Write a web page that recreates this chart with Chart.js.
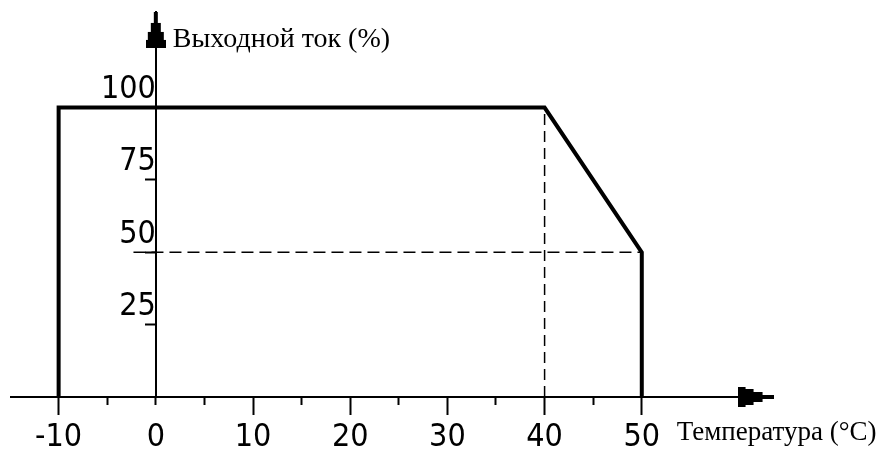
<!DOCTYPE html>
<html>
<head>
<meta charset="utf-8">
<script src="https://cdn.jsdelivr.net/npm/chart.js@4"></script>
<style>
  html, body { margin: 0; padding: 0; background: #fff; }
  #wrap { width: 888px; height: 453px; position: relative; }
</style>
</head>
<body>
<div id="wrap"><canvas id="deratingChart"></canvas></div>
<script>
// Кривая снижения выходного тока от температуры
const temperatura = [-10, -10, 40, 50, 50];
const tokProc = [0, 100, 100, 50, 0];

// Вспомогательные пунктирные линии
const dashVertX = [40, 40];
const dashVertY = [0, 100];
const dashHorX = [-2.3, 50];
const dashHorY = [50, 50];

// Деления осей
const xMajorTicks = [-10, 0, 10, 20, 30, 40, 50];
const xMinorTicks = [-5, 0, 5, 15, 25, 35, 45];
const yTicks = [25, 50, 75, 100];

// Концы осей (стрелки)
const arrowX = [61.7, 0];
const arrowY = [0, 126.8];

const titleY = 'Выходной ток (%)';
const titleX = 'Температура (°C)';

const tickFont = { family: "'Liberation Sans Narrow', 'DejaVu Sans Condensed', sans-serif", size: 32 };

function toPoints(xs, ys) {
    return xs.map((x, i) => ({ x: x, y: ys[i] }));
}

// Ступенчатая стрелка как картинка для pointStyle
function makeArrow() {
    const c = document.createElement('canvas');
    c.width = 36;
    c.height = 20;
    const g = c.getContext('2d');
    g.fillStyle = '#000';
    g.fillRect(0, 0, 8, 20);
    g.fillRect(8, 2, 8, 16);
    g.fillRect(16, 5, 9, 10);
    g.fillRect(25, 8, 11, 4);
    return c;
}
const arrowImg = makeArrow();

// Подписи осей рядом со стрелками
const axisCaptions = {
    id: 'axisCaptions',
    afterDraw(chart) {
        const { ctx, scales } = chart;
        ctx.save();
        ctx.fillStyle = '#000';
        ctx.textBaseline = 'middle';
        ctx.textAlign = 'left';
        ctx.font = "28px 'Liberation Serif', 'Times New Roman', serif";
        ctx.fillText(titleY, scales.x.getPixelForValue(0) + 17, scales.y.getPixelForValue(123.3));
        ctx.font = "27px 'Liberation Serif', 'Times New Roman', serif";
        ctx.fillText(titleX, scales.x.getPixelForValue(50) + 35, scales.y.getPixelForValue(0) + 36);
        ctx.restore();
    }
};

function noPadding(scale) {
    scale.paddingTop = 0;
    scale.paddingBottom = 0;
    scale.paddingLeft = 0;
    scale.paddingRight = 0;
}

const ctx = document.getElementById('deratingChart').getContext('2d');

new Chart(ctx, {
    type: 'line',
    data: {
        datasets: [
            {
                data: toPoints(temperatura, tokProc),
                borderColor: '#000',
                borderWidth: 4,
                pointRadius: 0,
                tension: 0,
                borderJoinStyle: 'miter'
            },
            {
                data: toPoints(dashVertX, dashVertY),
                borderColor: '#000',
                borderWidth: 1.5,
                borderDash: [11, 6],
                pointRadius: 0
            },
            {
                data: toPoints(dashHorX, dashHorY),
                borderColor: '#000',
                borderWidth: 1.5,
                borderDash: [12, 6],
                pointRadius: 0
            },
            {
                data: toPoints(arrowX, arrowY),
                showLine: false,
                pointStyle: arrowImg,
                rotation: [0, -90],
                pointRadius: 10,
                clip: false
            }
        ]
    },
    options: {
        responsive: true,
        maintainAspectRatio: false,
        animation: false,
        layout: {
            padding: { left: 10, right: 115, top: 12, bottom: 56 }
        },
        plugins: {
            legend: { display: false },
            tooltip: { enabled: false }
        },
        scales: {
            x: {
                type: 'linear',
                min: -14.9,
                max: 63.5,
                position: { y: 0 },
                afterBuildTicks: s => { s.ticks = xMajorTicks.map(v => ({ value: v })); },
                afterFit: noPadding,
                border: { display: true, color: '#000', width: 2 },
                grid: {
                    drawOnChartArea: false,
                    drawTicks: true,
                    tickLength: 17,
                    tickWidth: 2,
                    tickColor: c => (c.tick && c.tick.value === 0) ? 'rgba(0,0,0,0)' : '#000'
                },
                ticks: {
                    color: '#000',
                    font: tickFont,
                    padding: 4,
                    maxRotation: 0,
                    callback: v => String(v)
                }
            },
            xMinor: {
                type: 'linear',
                axis: 'x',
                min: -14.9,
                max: 63.5,
                position: { y: 0 },
                afterBuildTicks: s => { s.ticks = xMinorTicks.map(v => ({ value: v })); },
                afterFit: noPadding,
                border: { display: false },
                grid: {
                    drawOnChartArea: false,
                    drawTicks: true,
                    tickLength: 8,
                    tickWidth: 2,
                    tickColor: '#000'
                },
                ticks: { callback: () => '' }
            },
            y: {
                type: 'linear',
                min: 0,
                max: 133,
                position: { x: 0 },
                afterBuildTicks: s => { s.ticks = yTicks.map(v => ({ value: v })); },
                afterFit: noPadding,
                border: { display: true, color: '#000', width: 2 },
                grid: {
                    drawOnChartArea: false,
                    drawTicks: true,
                    tickLength: 10,
                    tickWidth: 2,
                    tickColor: '#000'
                },
                ticks: {
                    color: '#000',
                    font: tickFont,
                    padding: -7,
                    labelOffset: -18,
                    callback: v => String(v)
                }
            }
        }
    },
    plugins: [axisCaptions]
});
</script>
</body>
</html>
